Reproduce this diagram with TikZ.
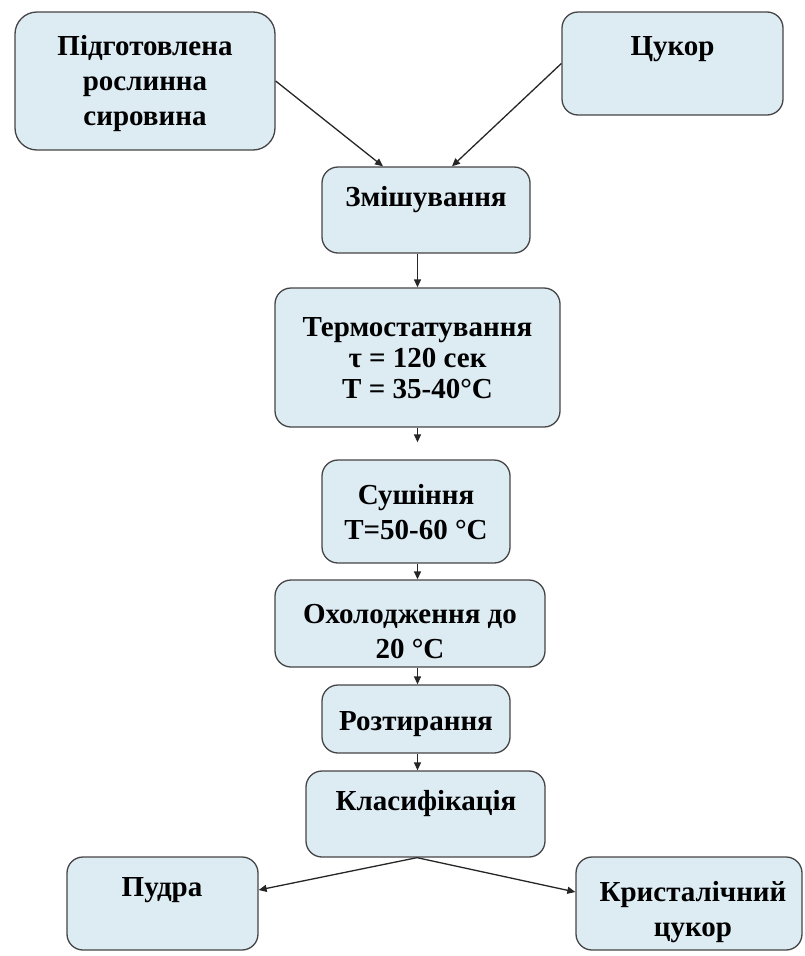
\documentclass[tikz,border=0pt]{standalone}
\usepackage{fontspec}
\setmainfont{Liberation Serif}
\usetikzlibrary{arrows.meta}
\definecolor{boxfill}{HTML}{DDEBF3}
\definecolor{boxline}{HTML}{454545}
\tikzset{
  procbox/.style={draw=boxline, line width=1.3pt, fill=boxfill, rounded corners=16pt, inner sep=0pt},
  lbl/.style={font=\bfseries\fontsize{29}{35}\selectfont, align=center, inner sep=0pt, text=black},
  flow/.style={line width=1.3pt, draw=black!85, -{Triangle[length=8pt,width=7pt]}}
}
\begin{document}
\begin{tikzpicture}[x=1pt,y=-1pt]
\useasboundingbox (0,0) rectangle (805,956);
% boxes
\node[procbox, rounded corners=22pt, minimum width=260pt, minimum height=138pt] (b1) at (145,81) {};
\node[procbox, minimum width=221pt, minimum height=103pt] (sugar) at (672.5,63.5) {};
\node[procbox, minimum width=208pt, minimum height=86pt] (mix) at (426,210) {};
\node[procbox, minimum width=285pt, minimum height=139pt] (term) at (417.5,357.5) {};
\node[procbox, minimum width=188pt, minimum height=103pt] (dry) at (416,511.5) {};
\node[procbox, minimum width=270pt, minimum height=87pt] (cool) at (410,623.5) {};
\node[procbox, minimum width=188pt, minimum height=68pt] (grind) at (416,719) {};
\node[procbox, minimum width=239pt, minimum height=86pt] (cls) at (425.5,814) {};
\node[procbox, minimum width=191pt, minimum height=93pt] (powder) at (162.5,903.5) {};
\node[procbox, minimum width=226pt, minimum height=93pt] (cryst) at (689,903.5) {};
% texts
\node[lbl] (tb1) at (145,84) {Підготовлена\\рослинна\\сировина};
\node[lbl] (tsugar) at (672.5,49) {Цукор};
\node[lbl] (tmix) at (426,200) {Змішування};
\node[lbl, font=\bfseries\fontsize{29}{31}\selectfont] (tterm) at (417.5,358) {Термостатування\\τ = 120 сек\\T = 35-40°C};
\node[lbl] (tdry) at (416,512) {Сушіння\\T=50-60 °C};
\node[lbl] (tcool) at (410,632) {Охолодження до\\20 °C};
\node[lbl] (tgrind) at (416,724) {Розтирання};
\node[lbl] (tcls) at (426,804) {Класифікація};
\node[lbl] (tpowder) at (162,890) {Пудра};
\node[lbl] (tcryst) at (693,912) {Кристалічний\\цукор};
% connectors
\draw[flow] (b1.east) -- ([xshift=-43pt]mix.north);
\draw[flow] (sugar.west) -- ([xshift=26pt]mix.north);
\draw[flow] (term.north |- mix.south) -- (term.north);
\draw[flow, shorten >=17pt] (term.south) -- (term.south |- dry.north);
\draw[flow] (dry.south -| term.south) -- (cool.north -| term.south);
\draw[flow] (cool.south -| term.south) -- (grind.north -| term.south);
\draw[flow] (grind.south -| term.south) -- (cls.north -| term.south);
\draw[flow] ([xshift=-8.5pt]cls.south) -- ([yshift=13.5pt]powder.east);
\draw[flow] ([xshift=-8.5pt]cls.south) -- ([yshift=11.5pt]cryst.west);
\end{tikzpicture}
\end{document}
